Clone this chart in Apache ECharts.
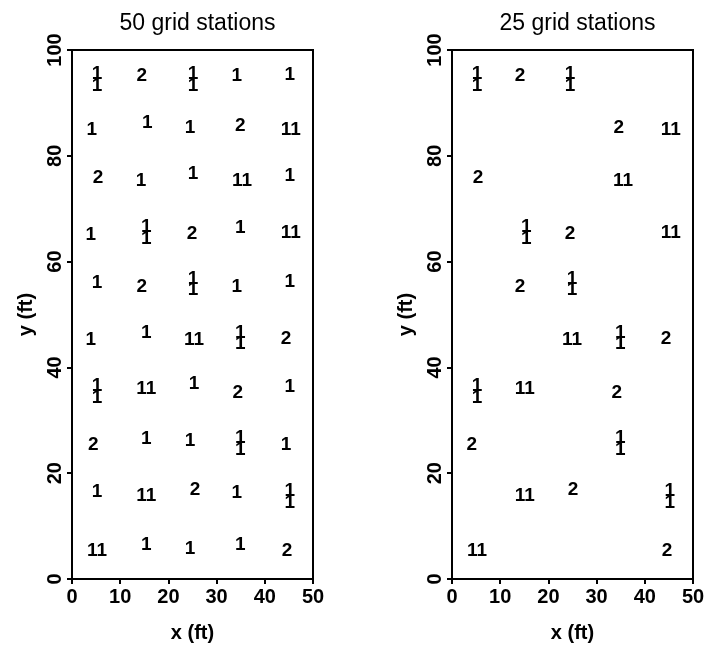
<!DOCTYPE html>
<html>
<head>
<meta charset="utf-8">
<script src="https://cdn.jsdelivr.net/npm/echarts@6/dist/echarts.min.js"></script>
<style>
html,body{margin:0;padding:0;background:#fff;}
#c{width:713px;height:652px;}
</style>
</head>
<body>
<div id="c"></div>
<script>
// Panel titles
const panelTitles = ['50 grid stations', '25 grid stations'];
// Left panel: 50 grid stations (x ft, y ft, label)
const leftX = [5.2,5.2,14.5,25.1,25.1,34.2,45.2,
  4.1,15.6,24.5,34.9,45.4,
  5.4,14.3,25.1,35.3,45.2,
  3.9,15.4,15.4,24.9,34.9,45.4,
  5.2,14.5,25.1,25.1,34.2,45.2,
  3.9,15.4,25.3,34.9,34.9,44.4,
  5.2,5.2,15.4,25.3,34.4,45.2,
  4.4,15.4,24.5,34.9,34.9,44.4,
  5.2,15.4,25.5,34.2,45.2,45.2,
  5.2,15.4,24.5,34.9,44.6];
const leftY = [95.5,93.3,95.1,95.5,93.3,95.1,95.3,
  84.9,86.2,85.3,85.6,84.9,
  75.8,75.2,76.6,75.2,76.2,
  65.0,66.6,64.4,65.2,66.4,65.4,
  56.0,55.2,56.8,54.6,55.2,56.1,
  45.2,46.5,45.2,46.6,44.4,45.4,
  36.5,34.3,35.9,36.9,35.2,36.3,
  25.3,26.5,26.1,26.7,24.5,25.3,
  16.4,15.7,16.8,16.3,16.7,14.5,
  5.3,6.4,5.7,6.4,5.3];
const leftText = ['1','1','2','1','1','1','1',
  '1','1','1','2','11',
  '2','1','1','11','1',
  '1','1','1','2','1','11',
  '1','2','1','1','1','1',
  '1','1','11','1','1','2',
  '1','1','11','1','2','1',
  '2','1','1','1','1','1',
  '1','11','2','1','1','1',
  '11','1','1','1','2'];
// Right panel: 25 grid stations
const rightX = [5.2,5.2,14.1,24.5,24.5,
  34.6,45.4,
  5.4,35.5,
  15.4,15.4,24.5,45.4,
  14.1,24.9,24.9,
  24.9,34.9,34.9,44.4,
  5.2,5.2,15.1,34.2,
  4.1,34.9,34.9,
  15.1,25.1,45.2,45.2,
  5.2,44.6];
const rightY = [95.5,93.3,95.1,95.5,93.3,
  85.3,84.9,
  75.8,75.2,
  66.6,64.4,65.2,65.4,
  55.2,56.8,54.6,
  45.2,46.6,44.4,45.4,
  36.5,34.3,35.9,35.2,
  25.3,26.7,24.5,
  15.7,16.8,16.7,14.5,
  5.3,5.3];
const rightText = ['1','1','2','1','1',
  '2','11',
  '2','11',
  '1','1','2','11',
  '2','1','1',
  '11','1','1','2',
  '1','1','11','2',
  '2','1','1',
  '11','2','1','1',
  '11','2'];
const xRange = [0, 50, 10];
const yRange = [0, 100, 20];

const FONT = 'Liberation Sans';
function zip(xs, ys, ts){ return xs.map((x,i)=>[x, ys[i], ts[i]]); }

const grids = [
  {left:72, top:50, width:241, height:529},
  {left:452, top:50, width:241, height:529}
];
const axisLine = {show:true, lineStyle:{color:'#000', width:2}};
const axisTick = {show:true, length:5, lineStyle:{color:'#000', width:2}};

function xAx(i){ return {
  type:'value', gridIndex:i, min:xRange[0], max:xRange[1], interval:xRange[2],
  name:'x (ft)', nameLocation:'middle', nameGap:44,
  nameTextStyle:{fontFamily:FONT, fontSize:20, fontWeight:'bold', color:'#000'},
  axisLine, axisTick, splitLine:{show:false},
  axisLabel:{fontFamily:FONT, fontSize:20, color:'#000', margin:8, fontWeight:'bold'}
};}
function yAx(i){ return {
  type:'value', gridIndex:i, min:yRange[0], max:yRange[1], interval:yRange[2],
  name:'y (ft)', nameLocation:'middle', nameGap:36, nameRotate:90,
  nameTextStyle:{fontFamily:FONT, fontSize:20, fontWeight:'bold', color:'#000'},
  axisLine, axisTick, splitLine:{show:false},
  axisLabel:{fontFamily:FONT, fontSize:20, color:'#000', margin:7, rotate:90, fontWeight:'bold'}
};}
function ser(i, data){ return {
  type:'scatter', xAxisIndex:i, yAxisIndex:i, data, symbolSize:0,
  itemStyle:{color:'#000'},
  label:{show:true, position:'inside', formatter:p=>p.value[2],
    fontFamily:FONT, fontSize:19, fontWeight:'bold', color:'#000',
    textBorderWidth:0, textShadowBlur:0, opacity:1},
  silent:true, animation:false
};}

const chart = echarts.init(document.getElementById('c'));
chart.setOption({
  backgroundColor:'#fff',
  animation:false,
  title: panelTitles.map((t,i)=>({
    text:t, left: grids[i].left + grids[i].width/2, top:7, textAlign:'center',
    textStyle:{fontFamily:FONT, fontSize:23, fontWeight:'normal', color:'#000'}
  })),
  grid: grids.map(g=>Object.assign({show:true, borderColor:'#000', borderWidth:2, backgroundColor:'transparent'}, g)),
  xAxis:[xAx(0), xAx(1)],
  yAxis:[yAx(0), yAx(1)],
  series:[ser(0, zip(leftX,leftY,leftText)), ser(1, zip(rightX,rightY,rightText))]
});
</script>
</body>
</html>
